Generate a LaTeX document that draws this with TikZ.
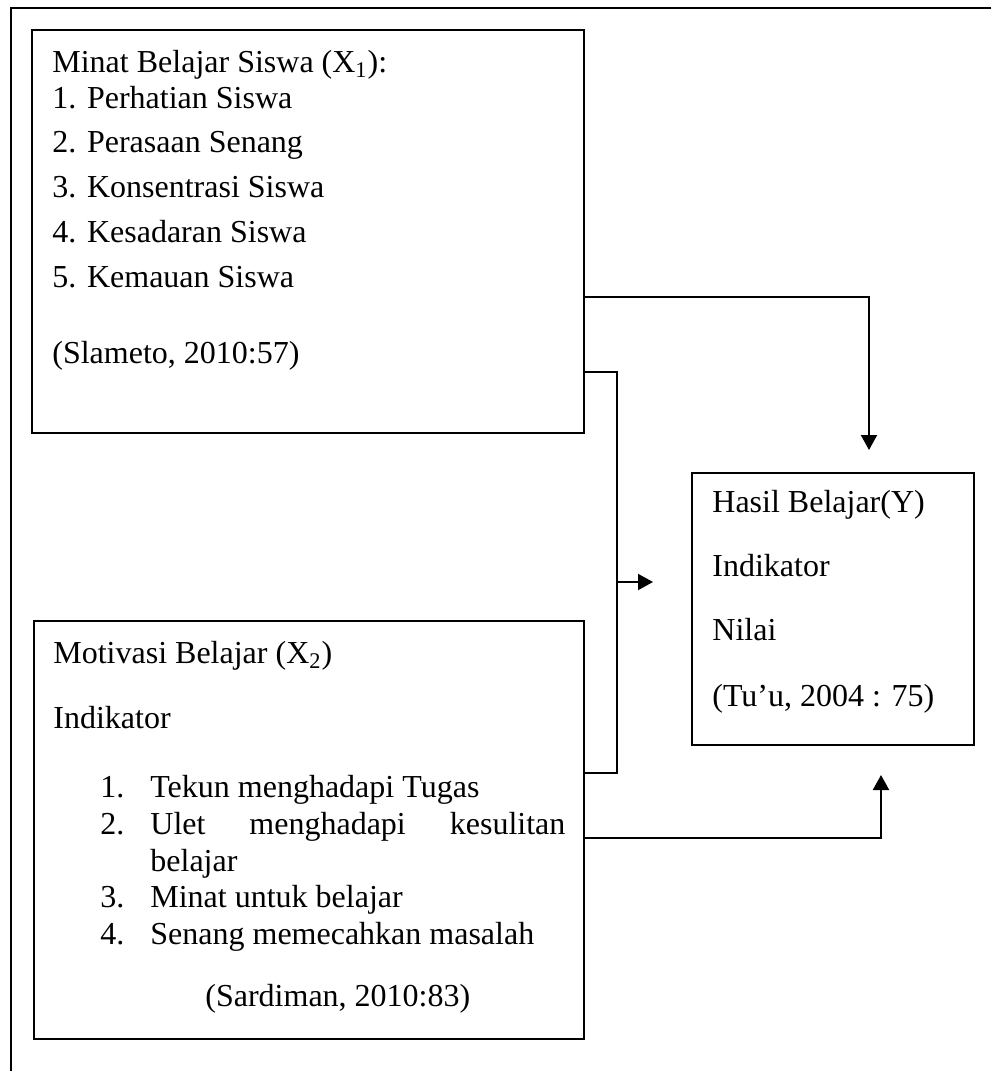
\documentclass[tikz,border=0pt]{standalone}
\usepackage{fontspec}
\setmainfont{Liberation Serif}
\usetikzlibrary{arrows.meta, positioning, calc}

\begin{document}
\begin{tikzpicture}[x=0.5pt, y=-0.5pt,
  box/.style={draw, line width=1pt, anchor=north west, inner sep=0pt},
  txt/.style={anchor=base west, inner sep=0pt, font=\fontsize{16}{18.4}\selectfont},
  line/.style={line width=1pt},
  arr/.style={line, -{Triangle[length=7.5pt, width=8pt]}},
]
\useasboundingbox (0,0) rectangle (991,1071);

%% ── Outer frame ──────────────────────────────────────────────────────────────
\draw[line width=0.8pt] (991,8) -- (11,8) -- (11,1071);

%% ── Minat belajar (X1) ───────────────────────────────────────────────────────
\node[box, minimum width=276pt, minimum height=201.5pt] (minat) at (31,29) {};
\node[txt] (m0) at (52,72)  {Minat Belajar Siswa (X\textsubscript{1}):};
\node[txt] (m1) at (52,108) {1. Perhatian Siswa};
\node[txt] (m2) at (52,152) {2. Perasaan Senang};
\node[txt] (m3) at (52,197) {3. Konsentrasi Siswa};
\node[txt] (m4) at (52,242) {4. Kesadaran Siswa};
\node[txt] (m5) at (52,287) {5. Kemauan Siswa};
\node[txt] (mref) at (52,363) {(Slameto, 2010:57)};

%% ── Motivasi belajar (X2) ────────────────────────────────────────────────────
\node[box, minimum width=275pt, minimum height=209pt] (motiv) at (33,620) {};
\node[txt] (v0) at (53,663) {Motivasi Belajar (X\textsubscript{2})};
\node[txt] (vi) at (53,728) {Indikator};
\node[txt] (n1) at (100,797) {1.};
\node[txt] (v1) at (150,797) {Tekun menghadapi Tugas};
\node[txt] (n2) at (100,834) {2.};
\node[txt] (v2) at (150,834) {\makebox[207.5pt][s]{Ulet menghadapi kesulitan}};
\node[txt] (v2b) at (150,871) {belajar};
\node[txt] (n3) at (100,907) {3.};
\node[txt] (v3) at (150,907) {Minat untuk belajar};
\node[txt] (n4) at (100,944) {4.};
\node[txt] (v4) at (150,944) {Senang memecahkan masalah};
\node[txt] (vref) at (205,1006) {(Sardiman, 2010:83)};

%% ── Hasil belajar (Y) ────────────────────────────────────────────────────────
\node[box, minimum width=141pt, minimum height=136pt] (hasil) at (691,472) {};
\node[txt] (h0) at (712,512) {Hasil Belajar(Y)};
\node[txt] (h1) at (712,576) {Indikator};
\node[txt] (h2) at (712,640) {Nilai};
\node[txt] (href) at (712,706) {(Tu'u, 2004 : 75)};

%% ── Connectors ───────────────────────────────────────────────────────────────
\coordinate (tipA) at (869,450);
\coordinate (tipC) at (881,775);
\coordinate (joinTop) at (617,372);
\coordinate (joinBot) at (617,773);
\coordinate (midS) at (617,582);
\coordinate (midE) at (653,582);

\draw[arr] (minat.east |- 0,297) -| (tipA);
\draw[line] (minat.east |- joinTop) -- (joinTop) -- (joinBot)
  -- (motiv.east |- joinBot);
\draw[arr] (midS) -- (midE);
\draw[arr] (motiv.east |- 0,838) -| (tipC);

\end{tikzpicture}
\end{document}
